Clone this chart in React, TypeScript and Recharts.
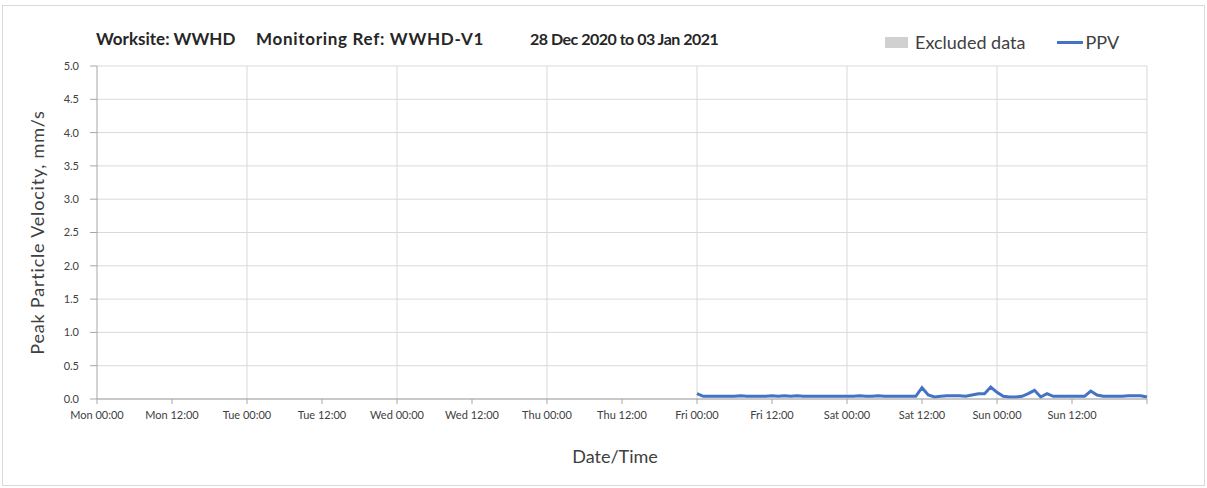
import { LineChart, Line, XAxis, YAxis, CartesianGrid, ReferenceLine } from 'recharts';

// hours since Mon 00:00
const DAYS = ['Mon', 'Tue', 'Wed', 'Thu', 'Fri', 'Sat', 'Sun'];
const X_TICKS = [0, 12, 24, 36, 48, 60, 72, 84, 96, 108, 120, 132, 144, 156, 168];
const DAY_LINES = [24, 48, 72, 96, 120, 144, 168];
const Y_TICKS = [0, 0.5, 1, 1.5, 2, 2.5, 3, 3.5, 4, 4.5, 5];

const TITLE_PARTS = ['Worksite: WWHD', 'Monitoring Ref: WWHD-V1', '28 Dec 2020 to 03 Jan 2021'];

// hourly PPV readings from Fri 00:00 to end of Sun
const PPV_START_HOUR = 96;
const PPV_VALUES = [
  0.08, 0.04, 0.04, 0.04, 0.04, 0.04, 0.04, 0.05, 0.04, 0.04, 0.04, 0.04,
  0.05, 0.04, 0.05, 0.04, 0.05, 0.04, 0.04, 0.04, 0.04, 0.04, 0.04, 0.04,
  0.04, 0.04, 0.05, 0.04, 0.04, 0.05, 0.04, 0.04, 0.04, 0.04, 0.04, 0.04,
  0.17, 0.06, 0.03, 0.04, 0.05, 0.05, 0.05, 0.04, 0.06, 0.08, 0.08, 0.18,
  0.10, 0.04, 0.03, 0.03, 0.04, 0.08, 0.13, 0.03, 0.08, 0.04, 0.04, 0.04,
  0.04, 0.04, 0.04, 0.12, 0.06, 0.04, 0.04, 0.04, 0.04, 0.05, 0.05, 0.05,
  0.03,
];

const data = PPV_VALUES.map((v, i) => ({ hour: PPV_START_HOUR + i, ppv: v }));

const FONT = 'Lato, "Open Sans", sans-serif';
const TEXT = '#404040';
const GRID = '#d9d9d9';
const AXIS = '#a6a6a6';
const BLUE = '#4472C4';

const formatHour = (h: number) => {
  if (h >= 168) return '';
  const day = DAYS[Math.floor(h / 24)];
  return `${day} ${h % 24 === 0 ? '00' : '12'}:00`;
};

export default function App() {
  const titleStyles = [
    { left: 96, fontSize: 17, letterSpacing: 0 },
    { left: 256, fontSize: 17, letterSpacing: 0.7 },
    { left: 530, fontSize: 16, letterSpacing: -0.5 },
  ];
  return (
    <div style={{ position: 'fixed', left: 0, top: 0, width: 1207, height: 488, background: '#fff', fontFamily: FONT }}>
      <div style={{ position: 'absolute', left: 2, top: 5, width: 1201, height: 479, border: `1px solid ${GRID}` }} />
      {TITLE_PARTS.map((t, i) => (
        <div
          key={t}
          style={{
            position: 'absolute',
            left: titleStyles[i].left,
            top: 29,
            height: 18,
            display: 'flex',
            alignItems: 'flex-end',
            fontSize: titleStyles[i].fontSize,
            letterSpacing: titleStyles[i].letterSpacing,
            lineHeight: 1,
            fontWeight: 700,
            color: '#262626',
            whiteSpace: 'nowrap',
          }}
        >
          {t}
        </div>
      ))}
      <div style={{ position: 'absolute', left: 885, top: 31, display: 'flex', alignItems: 'center', fontSize: 18, color: TEXT, whiteSpace: 'nowrap' }}>
        <span style={{ display: 'inline-block', width: 23, height: 11, background: '#d0d0d0', marginRight: 7 }} />
        <span>Excluded data</span>
        <span style={{ display: 'inline-block', width: 26, height: 3, background: BLUE, marginLeft: 32, marginRight: 2 }} />
        <span>PPV</span>
      </div>
      <div style={{ position: 'absolute', left: 0, top: 0 }}>
        <LineChart width={1207} height={488} data={data} margin={{ top: 66, right: 60, bottom: 19, left: 0 }}>
          <CartesianGrid vertical={false} stroke={GRID} />
          {DAY_LINES.map((h) => (
            <ReferenceLine key={h} x={h} stroke={GRID} />
          ))}
          <XAxis
            dataKey="hour"
            type="number"
            domain={[0, 168]}
            ticks={X_TICKS}
            interval={0}
            tickFormatter={formatHour}
            height={70}
            tickSize={5}
            tickMargin={7}
            stroke={AXIS}
            tick={{ fill: TEXT, fontSize: 11, fontFamily: FONT }}
            label={{ value: 'Date/Time', position: 'insideBottom', offset: 6, dx: -7, style: { fill: TEXT, fontSize: 18, fontFamily: FONT } }}
          />
          <YAxis
            type="number"
            domain={[0, 5]}
            ticks={Y_TICKS}
            interval={0}
            tickFormatter={(v: number) => v.toFixed(1)}
            width={97}
            tickSize={7}
            tickMargin={11}
            stroke={AXIS}
            tick={{ fill: TEXT, fontSize: 11, fontFamily: FONT }}
            label={{ value: 'Peak Particle Velocity, mm/s', angle: -90, position: 'insideLeft', offset: 38, style: { textAnchor: 'middle', fill: TEXT, fontSize: 18, letterSpacing: 0.8, fontFamily: FONT } }}
          />
          <Line
            dataKey="ppv"
            name="PPV"
            stroke={BLUE}
            strokeWidth={3}
            dot={false}
            activeDot={false}
            isAnimationActive={false}
          />
        </LineChart>
      </div>
    </div>
  );
}
